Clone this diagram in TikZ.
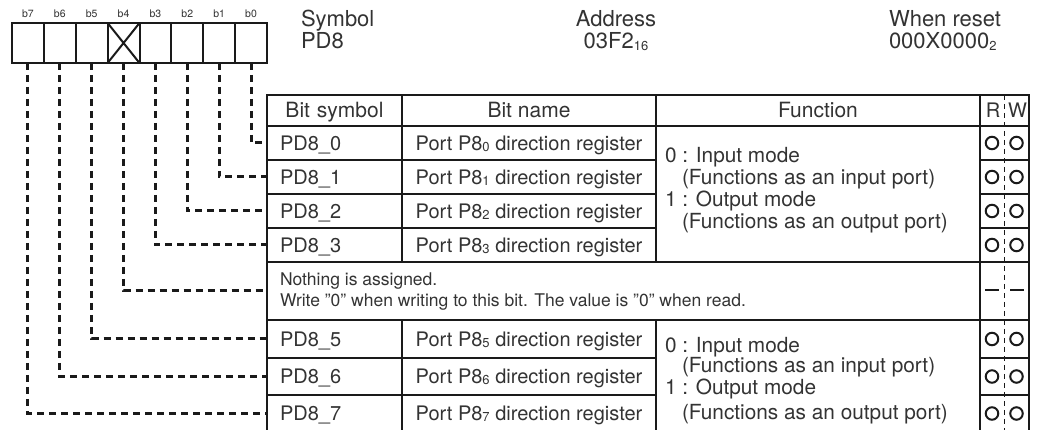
\documentclass[tikz,border=0pt]{standalone}
\usepackage{fontspec}
\setmainfont{TeX Gyre Heros}
\definecolor{txt}{HTML}{333333}
\definecolor{ln}{HTML}{1A1A1A}
\newcommand{\fsz}[1]{\fontsize{#1}{#1}\selectfont}
\newcommand{\subd}[1]{\raisebox{-1.2pt}{\fontsize{13}{13}\selectfont #1}}
\begin{document}
\begin{tikzpicture}[x=1pt,y=-1pt,
  every node/.style={inner sep=0pt,outer sep=0pt,text=txt},
  regcell/.style={draw=ln,line width=2pt,minimum width=31.875pt,minimum height=40pt},
  blabel/.style={font=\fsz{10.5},anchor=base},
  head/.style={font=\fsz{22},anchor=base west},
  headc/.style={font=\fsz{22},anchor=base},
  cellbox/.style={draw=ln,line width=2pt,anchor=north west,text height=14.4pt,text depth=0pt,font=\fsz{20}},
  symcell/.style={cellbox,minimum width=135pt,text width=109pt,align=left},
  namecell/.style={cellbox,minimum width=254pt},
  funccell/.style={cellbox,minimum width=324pt},
  rwcell/.style={cellbox,minimum width=49pt},
  ftext/.style={font=\fsz{20.8},anchor=base west},
  ntext/.style={font=\fsz{17.5},anchor=base west},
  circ/.style={circle,draw=ln,line width=2pt,minimum size=12.5pt},
  conn/.style={draw=ln,line width=3pt,dash pattern=on 7pt off 5pt},
  rwdash/.style={draw=ln,line width=1.6pt,dash pattern=on 5pt off 4pt},
  nilbar/.style={draw=ln,line width=1.6pt}
]
\useasboundingbox (0,0) rectangle (1042,430);
\clip (0,0) rectangle (1042,430);

% register
\foreach \i in {0,...,7}{
  \pgfmathsetmacro\cx{12+31.875*(7-\i)+15.9375}
  \node[regcell] (c\i) at (\cx,43) {};
  \node[blabel] (bl\i) at (\cx,18) {b\i};
}
\draw[ln,line width=2pt] (c4.north west) -- (c4.south east) (c4.south west) -- (c4.north east);

% top labels
\node[head] (symt) at (301,27) {Symbol};
\node[head] (symv) at (301,49) {PD8};
\node[headc] (addt) at (616,27) {Address};
\node[headc] (addv) at (616,49) {03F2\subd{16}};
\node[head] (rest) at (889,27) {When reset};
\node[head] (resv) at (889,49) {000X0000\subd{2}};

% header row
\node[symcell,minimum height=31pt,align=center,font=\fsz{21}] (hs) at (267,95) {Bit symbol};
\node[namecell,minimum height=31pt,font=\fsz{21}] (hn) at (402,95) {Bit name};
\node[funccell,minimum height=31pt,font=\fsz{21}] (hf) at (656,95) {Function};
\node[rwcell,minimum height=31pt] (hrw) at (980,95) {};
\node[font=\fsz{20},anchor=base] (hR) at (993,118) {R};
\node[font=\fsz{20},anchor=base] (hW) at (1017.5,118) {W};

% rows 0-3
\foreach \i/\y in {0/126,1/160,2/194,3/228}{
  \node[symcell,minimum height=34pt] (s\i) at (267,\y) {PD8\_\i};
  \node[namecell,minimum height=34pt] (n\i) at (402,\y) {Port P8\subd{\i} direction register};
  \node[rwcell,minimum height=34pt] (rw\i) at (980,\y) {};
  \node[circ,xshift=-12.5pt] (cr\i) at (rw\i.center) {};
  \node[circ,xshift=12pt] (cw\i) at (rw\i.center) {};
}
\node[funccell,minimum height=136pt] (f03) at (656,126) {};
\node[ftext] (fa1) at (665,163) {0 : Input mode};
\node[ftext] (fa2) at (682,185) {(Functions as an input port)};
\node[ftext] (fa3) at (665,207) {1 : Output mode};
\node[ftext] (fa4) at (682,229) {(Functions as an output port)};

% nothing row
\node[cellbox,minimum width=713pt,minimum height=58pt] (nothing) at (267,262) {};
\node[ntext] (nt1) at (280,286) {Nothing is assigned.};
\node[ntext] (nt2) at (280,307) {Write "0" when writing to this bit. The value is "0" when read.};
\node[rwcell,minimum height=58pt] (rw4) at (980,262) {};
\draw[nilbar] (985,290) -- (999,290) (1010,290) -- (1024,290);

% rows 5-7
\foreach \i/\y/\h in {5/320/38,6/358/37,7/395/37}{
  \node[symcell,minimum height=\h pt] (s\i) at (267,\y) {PD8\_\i};
  \node[namecell,minimum height=\h pt] (n\i) at (402,\y) {Port P8\subd{\i} direction register};
  \node[rwcell,minimum height=\h pt] (rw\i) at (980,\y) {};
  \node[circ,xshift=-12.5pt] (cr\i) at (rw\i.center) {};
  \node[circ,xshift=12pt] (cw\i) at (rw\i.center) {};
}
\node[funccell,minimum height=112pt] (f57) at (656,320) {};
\node[ftext] (fb1) at (665,353) {0 : Input mode};
\node[ftext] (fb2) at (682,373) {(Functions as an input port)};
\node[ftext] (fb3) at (665,395) {1 : Output mode};
\node[ftext] (fb4) at (682,419) {(Functions as an output port)};

% R/W divider
\coordinate (rwend) at (1004.5,430);
\draw[rwdash] (hrw.north) -- (rwend);

% connectors
\draw[conn] (c0.south) |- (s0.west);
\draw[conn] (c1.south) |- (s1.west);
\draw[conn] (c2.south) |- (s2.west);
\draw[conn] (c3.south) |- (s3.west);
\draw[conn] (c4.south) |- (nothing.west);
\draw[conn] (c5.south) |- (s5.west);
\draw[conn] (c6.south) |- (s6.west);
\draw[conn] (c7.south) |- (s7.west);
\end{tikzpicture}
\end{document}
